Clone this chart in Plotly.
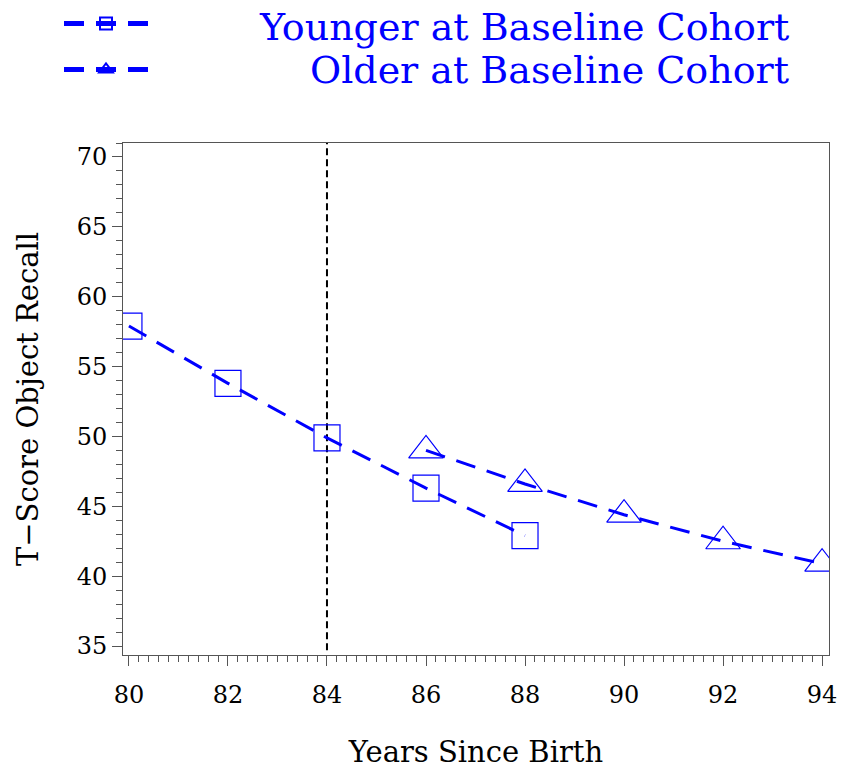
import plotly.graph_objects as go

# Data
younger_age = [80, 82, 84, 86, 88]
younger_score = [57.9, 53.8, 49.9, 46.3, 42.9]
older_age = [86, 88, 90, 92, 94]
older_score = [49.0, 46.6, 44.4, 42.5, 40.9]
baseline_age = 84
x_ticks = [80, 82, 84, 86, 88, 90, 92, 94]
y_ticks = [35, 40, 45, 50, 55, 60, 65, 70]
series_labels = ["Younger at Baseline Cohort", "Older at Baseline Cohort"]

BLUE = "#0000FF"
NB = "\u00a0"

fig = go.Figure()
fig.add_trace(go.Scatter(
    x=younger_age, y=younger_score, mode="lines+markers",
    name=NB, legend="legend", hovertext=series_labels[0],
    line=dict(color=BLUE, width=3, dash="20px,12px"),
    marker=dict(symbol="square-open", size=26, color=BLUE, line=dict(width=1.2, color=BLUE)),
))
fig.add_trace(go.Scatter(
    x=older_age, y=older_score, mode="lines+markers",
    name=NB, legend="legend2", hovertext=series_labels[1],
    line=dict(color=BLUE, width=3, dash="20px,12px"),
    marker=dict(symbol="triangle-up-open", size=30, color=BLUE, line=dict(width=1.2, color=BLUE)),
))

fig.add_shape(type="line", x0=baseline_age, x1=baseline_age, y0=34.7, y1=71.0,
              xref="x", yref="y", line=dict(color="black", width=2, dash="7px,4px"), layer="below")

tick_font = dict(family="DejaVu Serif", size=24, color="black")
title_font = dict(family="DejaVu Serif", size=29, color="black")
W, H = 844, 761
L, R, T, B = 115, 23, 135, 114
plot_w = W - L - R
plot_h = H - T - B

# legend texts, right-aligned like the reference
label_font = dict(family="DejaVu Serif", size=38, color=BLUE)
for label, cy in zip(series_labels, [18.5, 61.5]):
    fig.add_annotation(text=label, xref="paper", yref="paper",
                       x=(783 - L) / plot_w, y=1 + (T - cy) / plot_h,
                       xanchor="right", yanchor="middle", showarrow=False,
                       font=label_font)

leg_common = dict(xanchor="left", yanchor="top",
                  font=dict(family="DejaVu Serif", size=12, color=BLUE),
                  itemwidth=84, itemsizing="constant",
                  bgcolor="rgba(0,0,0,0)")
fig.update_layout(
    width=W, height=H,
    margin=dict(l=L, r=R, t=T, b=B, autoexpand=False),
    paper_bgcolor="white", plot_bgcolor="white",
    showlegend=True,
    legend=dict(x=(51 - L) / plot_w, y=1 + (T - 1) / plot_h, **leg_common),
    legend2=dict(x=(51 - L) / plot_w, y=1 + (T - 47) / plot_h, **leg_common),
    xaxis=dict(range=[79.88, 94.14], tickvals=x_ticks, ticks="outside", ticklen=10,
               tickcolor="#555", showgrid=False, zeroline=False,
               showline=True, mirror=True, linecolor="#555", linewidth=1,
               tickfont=tick_font, ticklabelstandoff=8,
               minor=dict(dtick=0.2, ticks="outside", ticklen=6, tickcolor="#555", showgrid=False),
               title=dict(text="Years Since Birth", font=title_font, standoff=34)),
    yaxis=dict(range=[34.36, 71.0], tickvals=y_ticks, ticks="outside", ticklen=10,
               tickcolor="#555", showgrid=False, zeroline=False,
               showline=True, mirror=True, linecolor="#555", linewidth=1,
               tickfont=tick_font,
               minor=dict(dtick=1, ticks="outside", ticklen=6, tickcolor="#555", showgrid=False),
               title=dict(text="T\u2212Score Object Recall", font=title_font, standoff=29)),
)

fig.write_html("out.html")
